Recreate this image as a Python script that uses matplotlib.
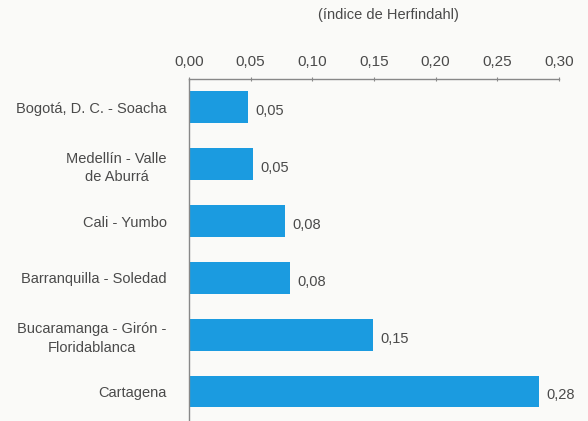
import matplotlib
matplotlib.use("Agg")
import matplotlib.pyplot as plt
from matplotlib.ticker import FuncFormatter

categories = ["Bogotá, D. C. - Soacha", "Medellín - Valle\nde Aburrá", "Cali - Yumbo",
              "Barranquilla - Soledad", "Bucaramanga - Girón -\nFloridablanca", "Cartagena"]
values = [0.048, 0.052, 0.078, 0.082, 0.149, 0.284]
value_labels = ["0,05", "0,05", "0,08", "0,08", "0,15", "0,28"]
xticks = [0.00, 0.05, 0.10, 0.15, 0.20, 0.25, 0.30]
title = "(índice de Herfindahl)"

plt.rcParams['font.family'] = ['Liberation Sans', 'DejaVu Sans']
bg = "#fafaf8"
txt = "#4a4a4a"
bar_color = "#1b9be0"

fig = plt.figure(figsize=(5.88, 4.21), dpi=100, facecolor=bg)
ax = fig.add_axes([189/588, 0.0, (559-189)/588, (421-79)/421])
ax.set_facecolor(bg)

ypos = list(range(len(categories)))
ax.barh(ypos, values, height=0.56, color=bar_color, zorder=2)
ax.set_ylim(5.52, -0.5)
ax.set_xlim(0, 0.30)

ax.xaxis.tick_top()
ax.set_xticks(xticks)
ax.xaxis.set_major_formatter(FuncFormatter(lambda v, p: f"{v:.2f}".replace(".", ",")))
ax.tick_params(axis='x', direction='inout', length=3, width=0.8, color="#888888",
               labelsize=11, labelcolor=txt, pad=6)
ax.set_yticks(ypos)
ax.set_yticklabels(categories, fontsize=10.5, color=txt, multialignment='center',
                   linespacing=1.4)
ax.tick_params(axis='y', length=0, pad=16)

for s in ['right', 'bottom']:
    ax.spines[s].set_visible(False)
for s in ['top', 'left']:
    ax.spines[s].set_color("#888888")
    ax.spines[s].set_linewidth(1.0)

for y, v, lab in zip(ypos, values, value_labels):
    ax.text(v + 0.006, y + 0.07, lab, va='center', ha='left', fontsize=10.5, color=txt)

fig.text(388/588, 1 - 15/421, title, ha='center', va='center', fontsize=10.5, color=txt)

fig.savefig("out.png", dpi=100, facecolor=bg)
